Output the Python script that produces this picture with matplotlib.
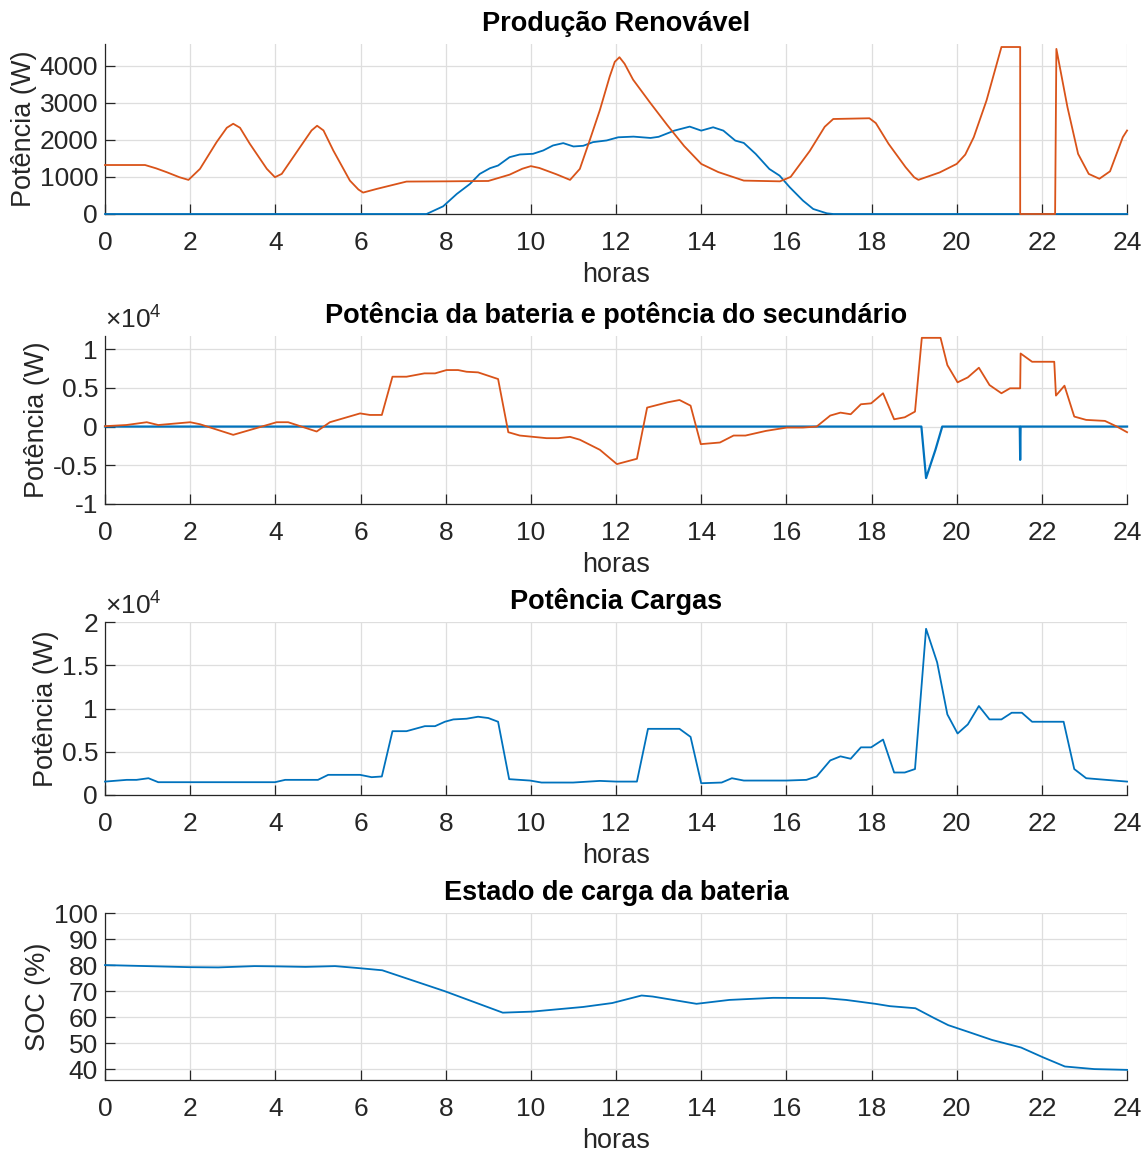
import numpy as np
import matplotlib
matplotlib.use("Agg")
import matplotlib.pyplot as plt
from matplotlib.ticker import FuncFormatter

plt.rcParams['font.family'] = ['Liberation Sans', 'DejaVu Sans']
plt.rcParams['mathtext.fontset'] = 'custom'
plt.rcParams['mathtext.rm'] = 'Liberation Sans'
plt.rcParams['axes.unicode_minus'] = False

AZUL = '#0072BD'
LARANJA = '#D95319'
CINZA = '#262626'

# --- Produção renovável (W) ---
h_solar = [0, 7.55, 7.94, 8.26, 8.57, 8.8, 9.04, 9.23, 9.5, 9.74, 10.05, 10.29, 10.52, 10.76,
           11.0, 11.23, 11.46, 11.78, 12.05, 12.41, 12.81, 13.0, 13.37, 13.73, 14.0, 14.28,
           14.52, 14.8, 15.0, 15.28, 15.6, 15.84, 16.08, 16.39, 16.63, 16.95, 17.1, 24]
p_solar = [0, 0, 207, 540, 810, 1081, 1234, 1306, 1531, 1604, 1622, 1712, 1847, 1910,
           1820, 1838, 1937, 1982, 2067, 2085, 2049, 2080, 2247, 2355, 2247, 2337,
           2247, 1978, 1915, 1618, 1213, 1034, 719, 360, 135, 18, 0, 0]

h_eolica = [0, 0.5, 0.94, 1.2, 1.45, 1.75, 1.96, 2.23, 2.62, 2.86, 3.01, 3.17, 3.4, 3.8, 3.99,
            4.15, 4.58, 4.85, 4.98, 5.13, 5.36, 5.75, 5.95, 6.06, 6.38, 7.08, 8.0, 9.0, 9.5,
            9.8, 10.0, 10.2, 10.6, 10.92, 11.15, 11.38, 11.62, 11.85, 11.97, 12.08, 12.2,
            12.4, 12.8, 13.2, 13.6, 14.0, 14.4, 15.0, 15.85, 16.1, 16.55, 16.9, 17.1, 17.95,
            18.1, 18.4, 18.8, 19.0, 19.1, 19.6, 20.0, 20.2, 20.4, 20.7, 21.05, 21.49, 21.49,
            22.31, 22.34, 22.6, 22.85, 23.1, 23.35, 23.6, 23.9, 24]
p_eolica = [1320, 1320, 1320, 1230, 1126, 990, 919, 1216, 1937, 2324, 2432, 2324, 1892, 1216, 991,
            1081, 1802, 2252, 2378, 2252, 1712, 900, 660, 577, 676, 874, 880, 890, 1060,
            1220, 1290, 1240, 1070, 919, 1216, 1980, 2800, 3700, 4100, 4225, 4050,
            3620, 3000, 2400, 1830, 1350, 1130, 900, 880, 1000, 1700, 2350, 2560, 2580,
            2450, 1890, 1260, 990, 920, 1120, 1350, 1600, 2070, 3060, 4500, 4500, 0,
            0, 4450, 2880, 1620, 1080, 950, 1150, 2070, 2250]

# --- Potência da bateria e do secundário (W) ---
h_bat = [0, 0.5, 0.98, 1.25, 2.0, 2.23, 3.01, 4.03, 4.3, 4.97, 5.28, 5.99, 6.22, 6.5, 6.75,
         7.08, 7.5, 7.75, 8.02, 8.29, 8.49, 8.76, 9.23, 9.47, 9.74, 10.37, 10.64, 10.92, 11.15,
         11.62, 12.02, 12.49, 12.73, 13.21, 13.49, 13.75, 13.99, 14.44, 14.76, 15.04, 15.52,
         16.01, 16.39, 16.71, 17.03, 17.27, 17.51, 17.75, 17.99, 18.27, 18.53, 18.78, 19.02,
         19.18, 19.62, 19.78, 20.02, 20.26, 20.52, 20.77, 21.05, 21.25, 21.49, 21.5, 21.77,
         22.29, 22.33, 22.53, 22.76, 23.04, 23.48, 23.76, 24]
p_bat = [50, 200, 560, 200, 560, 300, -1070, 560, 560, -640, 560, 1700, 1500, 1500, 6440,
         6440, 6870, 6870, 7300, 7300, 7080, 7000, 6140, -730, -1160, -1500, -1500, -1330, -1700,
         -3000, -4850, -4160, 2450, 3130, 3430, 2700, -2270, -2060, -1160, -1160, -560,
         -130, -130, 0, 1420, 1800, 1590, 2880, 3000, 4300, 940, 1200, 1930,
         11460, 11460, 7940, 5710, 6350, 7600, 5360, 4300, 4940, 4940, 9440, 8370,
         8370, 4000, 5280, 1290, 860, 730, 0, -730]

h_sec = [0, 19.17, 19.28, 19.5, 19.66, 21.48, 21.49, 21.5, 24]
p_sec = [0, 0, -6650, -3000, 0, 0, -4300, 0, 0]

# --- Potência cargas (W) ---
h_carga = [0, 0.51, 0.74, 1.02, 1.25, 2.0, 3.99, 4.23, 5.0, 5.24, 5.99, 6.26, 6.5, 6.75, 7.08,
           7.51, 7.75, 7.98, 8.18, 8.49, 8.76, 9.0, 9.23, 9.49, 9.98, 10.25, 10.99, 11.62,
           12.01, 12.49, 12.75, 13.49, 13.75, 14.0, 14.48, 14.72, 15.0, 16.0, 16.47, 16.71,
           17.03, 17.27, 17.51, 17.75, 17.99, 18.27, 18.53, 18.78, 19.02, 19.28, 19.54, 19.78,
           20.02, 20.26, 20.52, 20.77, 21.05, 21.29, 21.53, 21.77, 22.51, 22.76, 23.04, 24]
p_carga = [1550, 1750, 1750, 1940, 1480, 1480, 1480, 1750, 1750, 2330, 2330, 2060, 2140, 7380, 7380,
           7960, 7960, 8470, 8740, 8820, 9050, 8900, 8470, 1830, 1670, 1440, 1440, 1630,
           1550, 1550, 7650, 7650, 6720, 1360, 1440, 1940, 1670, 1670, 1750, 2140,
           4000, 4470, 4190, 5510, 5510, 6410, 2600, 2600, 3000, 19220, 15340, 9320,
           7110, 8160, 10290, 8740, 8740, 9510, 9510, 8470, 8470, 3000, 1940, 1550]

# --- Estado de carga (%) ---
h_soc = [0, 1.97, 2.66, 3.51, 4.03, 4.71, 5.4, 5.91, 6.51, 7.97, 9.34, 10.03, 11.23, 11.91,
         12.6, 12.86, 13.89, 14.66, 15.69, 16.89, 17.4, 18.09, 18.43, 19.03, 19.46, 19.8,
         20.31, 20.83, 21.51, 22.03, 22.54, 23.23, 24]
soc = [80.0, 79.2, 79.1, 79.6, 79.5, 79.3, 79.6, 78.9, 78.0, 70.0, 61.7, 62.1, 63.9, 65.4,
       68.3, 67.9, 65.1, 66.6, 67.4, 67.3, 66.6, 65.1, 64.2, 63.4, 59.7, 56.9,
       54.1, 51.2, 48.3, 44.5, 41.0, 40.0, 39.7]

x_ticks = np.arange(0, 25, 2)


def estilo(ax, titulo, ylabel):
    ax.set_xlim(0, 24)
    ax.set_xticks(x_ticks)
    ax.grid(True, color='#dedede', linewidth=0.9)
    ax.set_axisbelow(True)
    for s in ['top', 'right']:
        ax.spines[s].set_visible(False)
    for s in ['left', 'bottom']:
        ax.spines[s].set_color(CINZA)
        ax.spines[s].set_linewidth(0.9)
    ax.tick_params(direction='in', length=7, width=0.9, colors=CINZA, labelsize=19)
    ax.tick_params(axis='x', pad=12)
    ax.tick_params(axis='y', pad=5)
    ax.set_title(titulo, fontsize=19.5, fontweight='bold', pad=9.5)
    ax.set_xlabel('horas', fontsize=19.5, color=CINZA, labelpad=5.5)
    ax.set_ylabel(ylabel, fontsize=19.5, color=CINZA, labelpad=2)


def expoente(ax):
    ax.yaxis.set_major_formatter(FuncFormatter(lambda v, p: f'{v / 1e4:g}'))
    ax.text(0.0, 1.015, r'$\mathregular{\times10^{4}}$', transform=ax.transAxes,
            fontsize=19, color=CINZA, ha='left', va='bottom')


fig = plt.figure(figsize=(11.44, 11.53), dpi=100)
ax1 = fig.add_axes([0.0918, 0.8144, 0.8934, 0.1474])
ax2 = fig.add_axes([0.0918, 0.5629, 0.8934, 0.1457])
ax3 = fig.add_axes([0.0918, 0.3105, 0.8934, 0.1500])
ax4 = fig.add_axes([0.0918, 0.0633, 0.8934, 0.1448])

lw = 1.3
ax1.plot(h_solar, p_solar, color=AZUL, lw=lw, clip_on=False, zorder=3)
ax1.plot(h_eolica, p_eolica, color=LARANJA, lw=lw, clip_on=False, zorder=3)
ax1.set_ylim(0, 4580)
ax1.set_yticks([0, 1000, 2000, 3000, 4000])
estilo(ax1, 'Produção Renovável', 'Potência (W)')

ax2.plot(h_sec, p_sec, color=AZUL, lw=1.6, clip_on=False, zorder=3)
ax2.plot(h_bat, p_bat, color=LARANJA, lw=lw, clip_on=False, zorder=3)
ax2.set_ylim(-10000, 11700)
ax2.set_yticks([-10000, -5000, 0, 5000, 10000])
estilo(ax2, 'Potência da bateria e potência do secundário', 'Potência (W)')
expoente(ax2)

ax3.plot(h_carga, p_carga, color=AZUL, lw=lw, clip_on=False, zorder=3)
ax3.set_ylim(0, 20000)
ax3.set_yticks([0, 5000, 10000, 15000, 20000])
estilo(ax3, 'Potência Cargas', 'Potência (W)')
expoente(ax3)

ax4.plot(h_soc, soc, color=AZUL, lw=lw, clip_on=False, zorder=3)
ax4.set_ylim(35.8, 100)
ax4.set_yticks(np.arange(40, 101, 10))
estilo(ax4, 'Estado de carga da bateria', 'SOC (%)')

fig.savefig('out.png', dpi=100)
